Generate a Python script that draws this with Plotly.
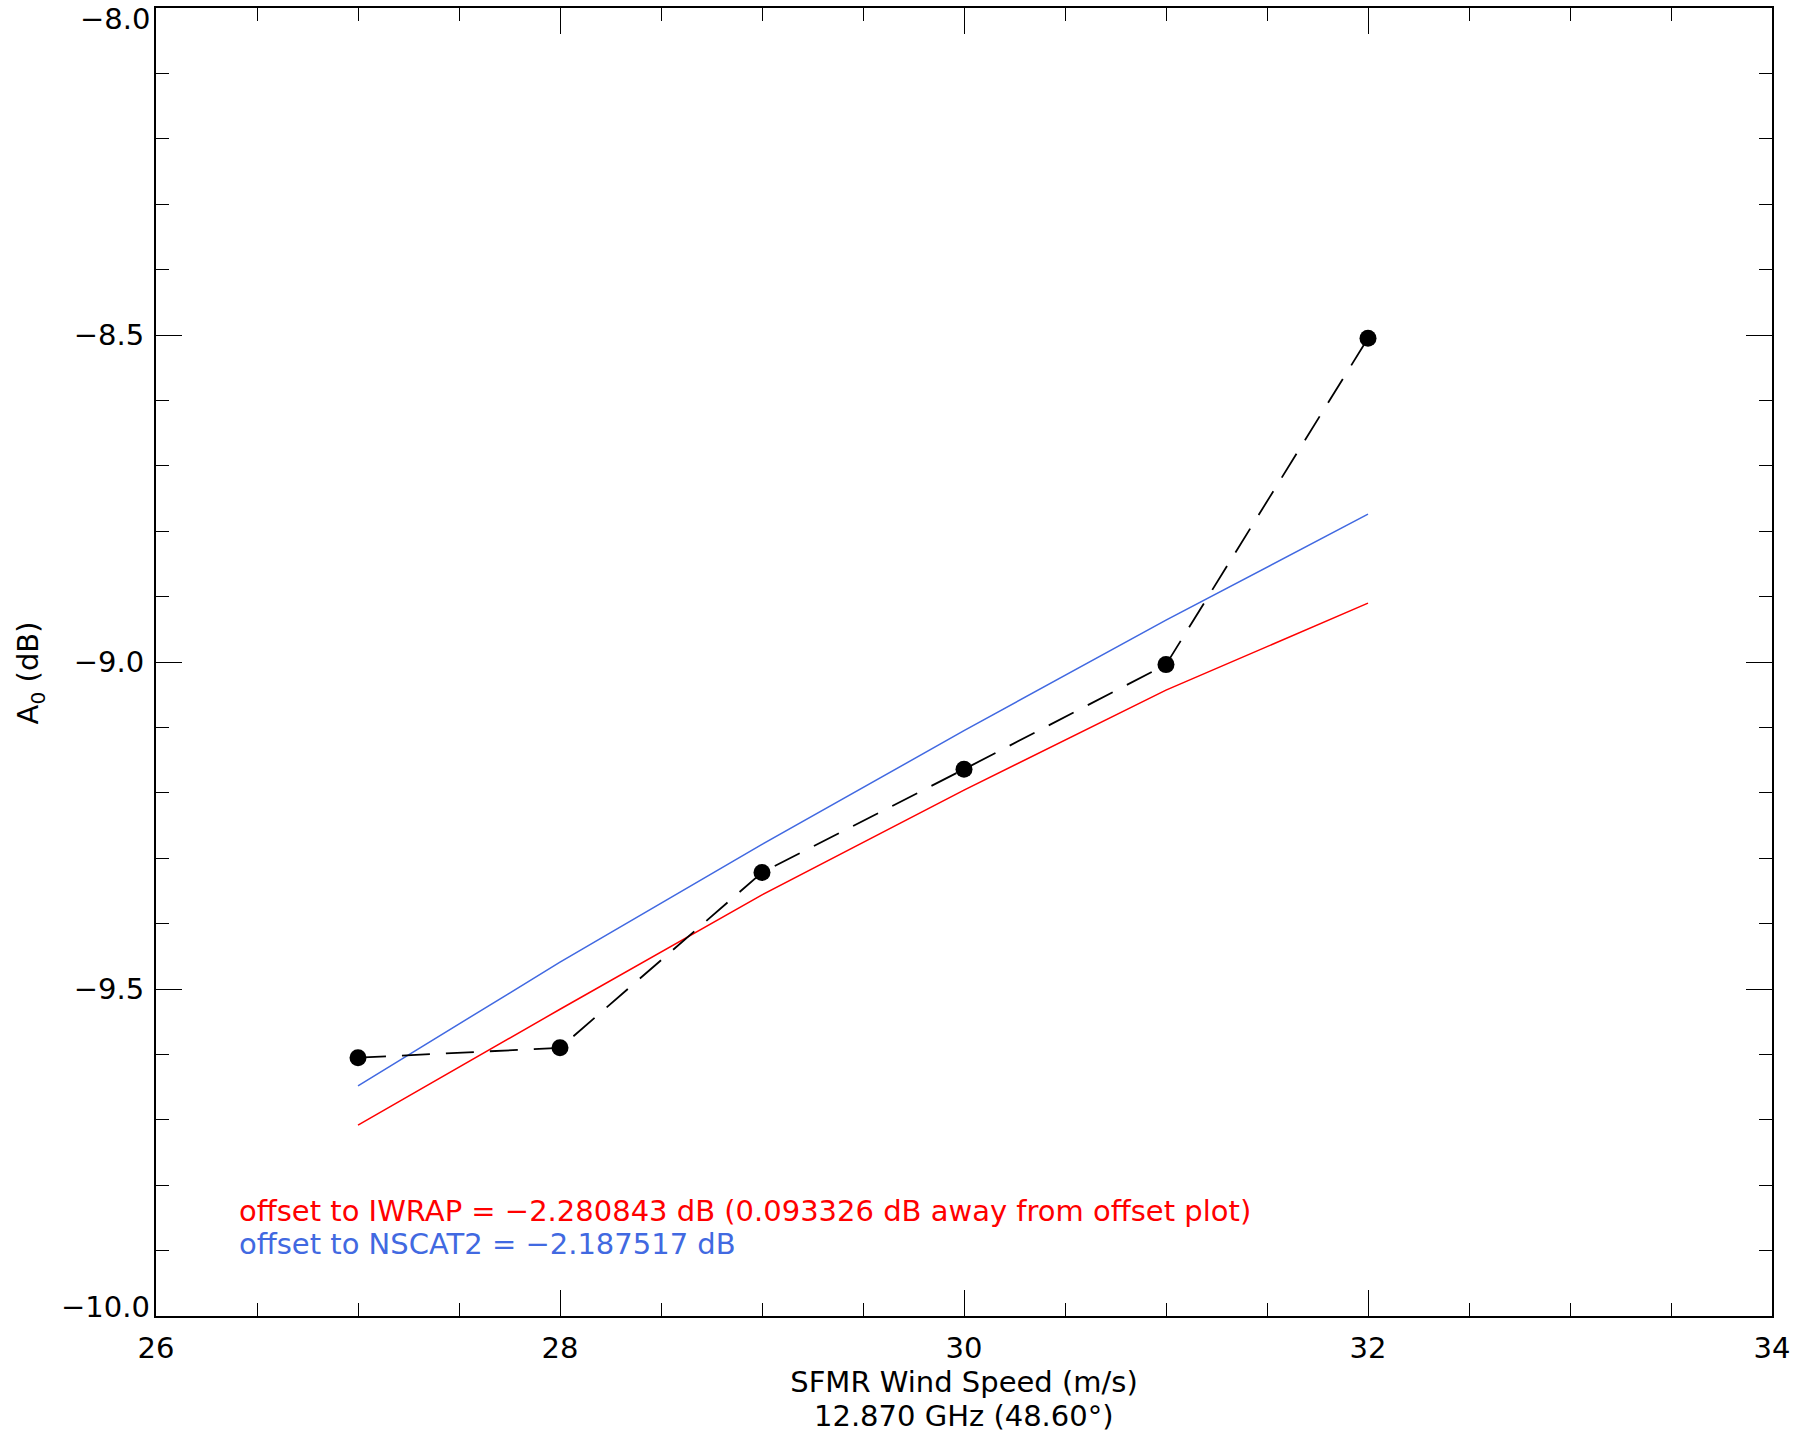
import plotly.graph_objects as go

wind_speed = [27, 28, 29, 30, 31, 32]
measured_a0 = [-9.605, -9.590, -9.322, -9.164, -9.004, -8.505]
iwrap_a0 = [-9.708, -9.531, -9.356, -9.196, -9.043, -8.910]
nscat2_a0 = [-9.648, -9.459, -9.279, -9.105, -8.936, -8.774]

y_tick_values = [-10.0, -9.5, -9.0, -8.5, -8.0]
y_tick_labels = ["\u221210.0", "\u22129.5", "\u22129.0", "\u22128.5", "\u22128.0"]

iwrap_text = "offset to IWRAP = \u22122.280843 dB (0.093326 dB away from offset plot)"
nscat_text = "offset to NSCAT2 = \u22122.187517 dB"
x_title = "SFMR Wind Speed (m/s)"
x_subtitle = "12.870 GHz (48.60\u00b0)"
y_title = "A<sub>0</sub> (dB)"

FONT = "DejaVu Sans"
FS = 29

fig = go.Figure()
fig.add_trace(go.Scatter(x=wind_speed, y=nscat2_a0, mode="lines",
                         line=dict(color="#4169e1", width=1.5), showlegend=False))
fig.add_trace(go.Scatter(x=wind_speed, y=iwrap_a0, mode="lines",
                         line=dict(color="#ff0000", width=1.5), showlegend=False))
fig.add_trace(go.Scatter(x=wind_speed, y=measured_a0, mode="lines+markers",
                         line=dict(color="black", width=1.8, dash="28px,16px"),
                         marker=dict(color="black", size=17), showlegend=False))

fig.add_annotation(x=26.4, y=-9.839, xref="x", yref="y", text=iwrap_text,
                   showarrow=False, xanchor="left", yanchor="middle",
                   font=dict(family=FONT, size=FS, color="#ff0000"))
fig.add_annotation(x=26.4, y=-9.890, xref="x", yref="y", text=nscat_text,
                   showarrow=False, xanchor="left", yanchor="middle",
                   font=dict(family=FONT, size=FS, color="#4169e1"))
fig.add_annotation(x=0.5, y=-0.0766, xref="paper", yref="paper", text=x_subtitle,
                   showarrow=False, xanchor="center", yanchor="middle",
                   font=dict(family=FONT, size=FS, color="black"))
fig.add_annotation(x=-0.0774, y=0.492, xref="paper", yref="paper", text=y_title,
                   showarrow=False, xanchor="center", yanchor="middle", textangle=-90,
                   font=dict(family=FONT, size=FS, color="black"))

# end labels of the y axis sit inside the frame, as in the original
ytext = [""] + y_tick_labels[1:-1] + [""]
fig.add_annotation(x=0, y=y_tick_values[-1], xref="paper", yref="y", text=y_tick_labels[-1],
                   showarrow=False, xanchor="right", yanchor="middle", xshift=-4, yshift=-11,
                   font=dict(family=FONT, size=FS, color="black"))
fig.add_annotation(x=0, y=y_tick_values[0], xref="paper", yref="y", text=y_tick_labels[0],
                   showarrow=False, xanchor="right", yanchor="middle", xshift=-4, yshift=9,
                   font=dict(family=FONT, size=FS, color="black"))

axis_common = dict(showline=True, linecolor="black", linewidth=2, mirror="allticks",
                   ticks="inside", ticklen=26, tickwidth=1.2, tickcolor="black",
                   showgrid=False, zeroline=False, automargin=False,
                   ticklabeloverflow="allow",
                   tickfont=dict(family=FONT, size=FS, color="black"))

fig.update_xaxes(range=[26, 34], dtick=2, tick0=26,
                 minor=dict(ticks="inside", ticklen=13, dtick=0.5, tickcolor="black", tickwidth=1.2, showgrid=False),
                 title=dict(text=x_title, font=dict(family=FONT, size=FS, color="black"), standoff=8),
                 ticklabelstandoff=5, **axis_common)
fig.update_yaxes(range=[-10, -8], tickmode="array", tickvals=y_tick_values, ticktext=ytext,
                 minor=dict(ticks="inside", ticklen=13, dtick=0.1, tick0=-10, tickcolor="black", tickwidth=1.2, showgrid=False),
                 ticklabelstandoff=4, **axis_common)

fig.update_layout(width=1809, height=1434, plot_bgcolor="white", paper_bgcolor="white",
                  margin=dict(l=156, r=37, t=8, b=118))

fig.write_html("out.html", config={"displayModeBar": False},
               post_script="document.body.style.margin='0';")
